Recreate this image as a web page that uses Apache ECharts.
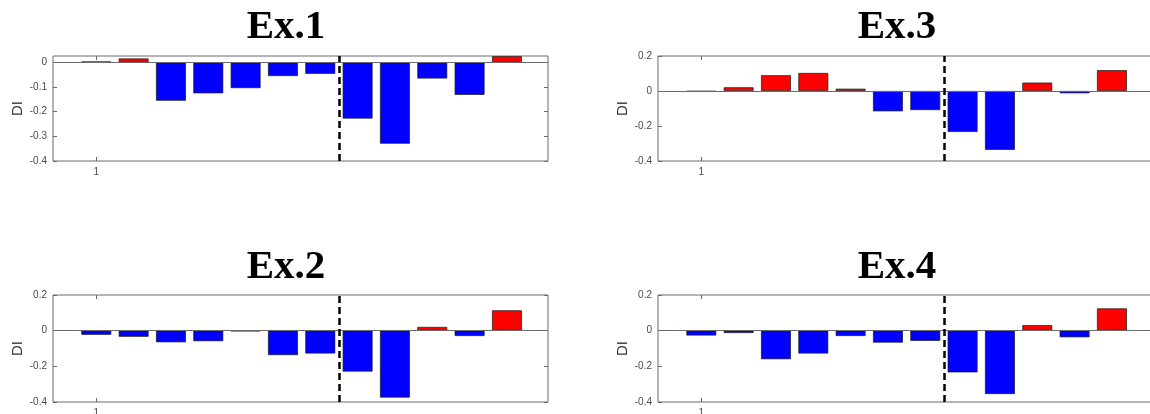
<!DOCTYPE html>
<html>
<head>
<meta charset="utf-8">
<script src="https://cdn.jsdelivr.net/npm/echarts@6/dist/echarts.min.js"></script>
<style>
  html, body { margin: 0; padding: 0; background: #ffffff; }
  #chart { width: 1150px; height: 414px; }
</style>
</head>
<body>
<div id="chart"></div>
<script>
// ---- Data ----
const titles = ['Ex.1', 'Ex.2', 'Ex.3', 'Ex.4'];
const barPositions = [1, 2, 3, 4, 5, 6, 7, 8, 9, 10, 11, 12];
const ex1 = [0.002, 0.015, -0.156, -0.126, -0.105, -0.056, -0.047, -0.228, -0.330, -0.066, -0.132, 0.024];
const ex2 = [-0.023, -0.034, -0.065, -0.059, -0.003, -0.137, -0.128, -0.229, -0.375, 0.021, -0.030, 0.114];
const ex3 = [-0.003, 0.021, 0.090, 0.103, 0.013, -0.116, -0.109, -0.234, -0.336, 0.048, -0.013, 0.119];
const ex4 = [-0.027, -0.013, -0.160, -0.128, -0.030, -0.067, -0.057, -0.234, -0.355, 0.031, -0.037, 0.125];
const separatorX = 7.5;
const xTickValues = [1];
const yTicksEx1 = [-0.4, -0.3, -0.2, -0.1, 0];
const yTicksOther = [-0.4, -0.2, 0, 0.2];
const yAxisLabel = 'DI';

// ---- Layout ----
// Right-hand panels run past the right edge of the picture (as in the reference),
// so they get a wider plot box with the same pixels-per-unit along x.
const xMin = -0.16;
const panels = [
  { title: titles[0], data: ex1, left: 53,  top: 56,  width: 495, xMax: 13.1,  height: 105, yMin: -0.4, yMax: 0.025, ticks: yTicksEx1, titleX: 286, titleY: 27 },
  { title: titles[1], data: ex2, left: 53,  top: 295, width: 495, xMax: 13.1,  height: 107, yMin: -0.4, yMax: 0.2,   ticks: yTicksOther, titleX: 286, titleY: 267 },
  { title: titles[2], data: ex3, left: 658, top: 56,  width: 520, xMax: 13.77, height: 105, yMin: -0.4, yMax: 0.2,   ticks: yTicksOther, titleX: 897, titleY: 27 },
  { title: titles[3], data: ex4, left: 658, top: 295, width: 520, xMax: 13.77, height: 107, yMin: -0.4, yMax: 0.2,   ticks: yTicksOther, titleX: 897, titleY: 267 }
];
const axisColor = '#6a6a6a';
const labelColor = '#4a4a4a';

const grids = [], xAxes = [], yAxes = [], series = [], graphics = [];

panels.forEach((p, i) => {
  grids.push({
    left: p.left, top: p.top, width: p.width, height: p.height,
    outerBoundsMode: 'none', containLabel: false,
    show: true, borderColor: axisColor, borderWidth: 1, backgroundColor: '#ffffff'
  });
  const tickStyle = { show: true, inside: true, length: 4, lineStyle: { color: axisColor } };
  // bottom x axis
  xAxes.push({
    type: 'value', gridIndex: i, position: 'bottom', min: xMin, max: p.xMax,
    axisLine: { show: false, onZero: false },
    axisTick: Object.assign({ customValues: xTickValues }, tickStyle),
    axisLabel: { show: true, customValues: xTickValues, fontSize: 10, color: labelColor, margin: 6, fontFamily: 'Liberation Sans' },
    splitLine: { show: false }
  });
  // top x axis (ticks only)
  xAxes.push({
    type: 'value', gridIndex: i, position: 'top', min: xMin, max: p.xMax,
    axisLine: { show: false, onZero: false },
    axisTick: Object.assign({ customValues: xTickValues }, tickStyle),
    axisLabel: { show: false },
    splitLine: { show: false }
  });
  // left y axis
  yAxes.push({
    type: 'value', gridIndex: i, position: 'left', min: p.yMin, max: p.yMax,
    name: yAxisLabel, nameLocation: 'middle', nameGap: 28, nameRotate: 90,
    nameTextStyle: { fontSize: 15, color: '#333333', fontFamily: 'Liberation Sans' },
    axisLine: { show: false, onZero: false },
    axisTick: Object.assign({ customValues: p.ticks }, tickStyle),
    axisLabel: { show: true, customValues: p.ticks, fontSize: 10, color: labelColor, margin: 6, fontFamily: 'Liberation Sans',
      formatter: v => String(Math.round(v * 10) / 10) },
    splitLine: { show: false }
  });
  // right y axis (ticks only)
  yAxes.push({
    type: 'value', gridIndex: i, position: 'right', min: p.yMin, max: p.yMax,
    axisLine: { show: false, onZero: false },
    axisTick: Object.assign({ customValues: p.ticks }, tickStyle),
    axisLabel: { show: false },
    splitLine: { show: false }
  });

  series.push({
    type: 'bar',
    xAxisIndex: i * 2, yAxisIndex: i * 2,
    barWidth: '80%',
    data: barPositions.map((x, k) => [x, p.data[k]]),
    itemStyle: {
      color: params => (params.value[1] >= 0 ? '#ff0000' : '#0000ff'),
      borderColor: '#1a1a1a', borderWidth: 0.7
    },
    markLine: {
      silent: true, symbol: 'none', label: { show: false },
      data: [
        { yAxis: 0, lineStyle: { color: axisColor, width: 1, type: 'solid' } },
        { xAxis: separatorX, lineStyle: { color: '#000000', width: 2.5, type: [7, 4] } }
      ]
    },
    animation: false
  });

  graphics.push({
    type: 'text', x: p.titleX, y: p.titleY,
    style: {
      text: p.title, fill: '#000000',
      font: 'bold 41px "Liberation Serif", "Times New Roman", serif',
      textAlign: 'center', textVerticalAlign: 'middle',
      align: 'center', verticalAlign: 'middle'
    }
  });
});

const chart = echarts.init(document.getElementById('chart'), null, { renderer: 'canvas' });
chart.setOption({
  backgroundColor: '#ffffff',
  animation: false,
  grid: grids,
  xAxis: xAxes,
  yAxis: yAxes,
  series: series,
  graphic: graphics
});
</script>
</body>
</html>
